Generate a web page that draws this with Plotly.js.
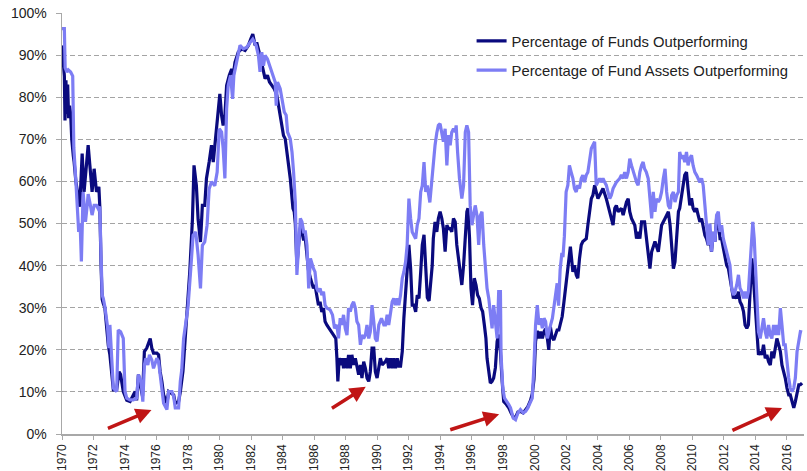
<!DOCTYPE html>
<html>
<head>
<meta charset="utf-8">
<script src="https://cdn.plot.ly/plotly-3.0.1.min.js"></script>
<style>html,body{margin:0;padding:0;background:#fff;}#chart{width:807px;height:471px;}</style>
</head>
<body>
<div id="chart"></div>
<script>
// Percentage of Funds Outperforming (decimal year, %)
var fundsYear = [1970.00,1970.08,1970.15,1970.19,1970.25,1970.30,1970.36,1970.42,1970.48,1970.55,1970.62,1970.72,1970.77,1970.88,1970.98,1971.13,1971.28,1971.40,1971.55,1971.66,1971.77,1971.91,1972.04,1972.19,1972.34,1972.40,1972.48,1972.55,1972.62,1972.72,1972.94,1973.04,1973.26,1973.47,1973.62,1973.72,1973.89,1974.11,1974.32,1974.53,1974.64,1974.74,1974.85,1974.96,1975.11,1975.23,1975.38,1975.60,1975.70,1975.81,1976.02,1976.13,1976.23,1976.34,1976.45,1976.66,1976.77,1977.09,1977.19,1977.40,1977.51,1977.68,1977.89,1978.00,1978.11,1978.28,1978.38,1978.53,1978.64,1978.79,1978.91,1979.06,1979.17,1979.34,1979.49,1979.60,1979.77,1979.91,1980.02,1980.13,1980.23,1980.34,1980.45,1980.62,1980.77,1980.87,1980.98,1981.19,1981.40,1981.62,1981.83,1981.98,1982.11,1982.26,1982.36,1982.57,1982.74,1982.89,1983.04,1983.17,1983.32,1983.47,1983.64,1983.85,1984.06,1984.17,1984.32,1984.49,1984.66,1984.74,1984.81,1984.91,1985.02,1985.13,1985.23,1985.34,1985.43,1985.55,1985.64,1985.77,1985.85,1985.96,1986.06,1986.17,1986.28,1986.38,1986.49,1986.60,1986.70,1986.81,1987.02,1987.23,1987.38,1987.45,1987.51,1987.60,1987.72,1987.81,1987.87,1987.98,1988.09,1988.19,1988.30,1988.40,1988.51,1988.62,1988.72,1988.83,1988.94,1989.04,1989.15,1989.26,1989.36,1989.47,1989.57,1989.68,1989.79,1989.89,1990.00,1990.11,1990.21,1990.32,1990.53,1990.64,1990.74,1990.85,1990.96,1991.06,1991.17,1991.28,1991.38,1991.49,1991.60,1991.70,1991.81,1991.91,1992.02,1992.13,1992.23,1992.34,1992.45,1992.55,1992.66,1992.77,1992.87,1992.98,1993.09,1993.19,1993.30,1993.40,1993.50,1993.57,1993.68,1993.79,1993.89,1994.00,1994.11,1994.21,1994.32,1994.43,1994.53,1994.64,1994.74,1994.85,1994.96,1995.06,1995.23,1995.38,1995.49,1995.60,1995.70,1995.77,1995.87,1995.96,1996.06,1996.17,1996.28,1996.38,1996.49,1996.60,1996.70,1996.81,1996.91,1996.98,1997.09,1997.19,1997.30,1997.40,1997.51,1997.62,1997.72,1997.83,1997.94,1998.04,1998.21,1998.36,1998.51,1998.68,1998.79,1998.94,1999.10,1999.28,1999.43,1999.57,1999.74,1999.85,1999.96,2000.06,2000.17,2000.28,2000.38,2000.49,2000.60,2000.70,2000.81,2000.90,2001.00,2001.10,2001.22,2001.33,2001.43,2001.54,2001.64,2001.75,2001.85,2001.96,2002.06,2002.17,2002.27,2002.43,2002.53,2002.64,2002.74,2002.85,2002.96,2003.06,2003.28,2003.38,2003.49,2003.60,2003.70,2003.81,2003.91,2004.02,2004.23,2004.34,2004.55,2004.77,2004.87,2004.98,2005.09,2005.19,2005.30,2005.51,2005.62,2005.83,2005.94,2006.04,2006.15,2006.36,2006.47,2006.57,2006.68,2006.79,2006.98,2007.09,2007.21,2007.32,2007.43,2007.64,2007.85,2007.96,2008.06,2008.28,2008.49,2008.60,2008.70,2008.81,2008.91,2009.02,2009.13,2009.21,2009.32,2009.43,2009.53,2009.64,2009.74,2009.85,2009.96,2010.06,2010.17,2010.28,2010.38,2010.49,2010.60,2010.70,2010.81,2010.91,2011.02,2011.13,2011.23,2011.34,2011.45,2011.55,2011.66,2011.77,2011.87,2011.98,2012.09,2012.19,2012.30,2012.40,2012.51,2012.62,2012.72,2012.83,2012.94,2013.04,2013.15,2013.26,2013.36,2013.47,2013.57,2013.68,2013.79,2013.89,2014.00,2014.11,2014.21,2014.32,2014.43,2014.53,2014.64,2014.74,2014.85,2014.96,2015.06,2015.17,2015.28,2015.38,2015.49,2015.60,2015.70,2015.81,2015.91,2016.02,2016.13,2016.23,2016.34,2016.45,2016.55,2016.66,2016.77,2016.87,2016.98];
var fundsPct = [92.3,88,85,74.5,84,76,83,75,78,76,70,66,64.6,60,57.5,54,66.6,57.5,63.8,68.6,63.8,57.5,63,57.5,58.7,54,40,32,31,30,21,18.8,10.5,10.5,14.8,14.1,10.1,8,7.7,9.3,10.1,8,14.1,11.7,9,19.6,20.4,22.7,20.4,19.2,19.2,18.8,14.8,12.5,9.3,7.3,10.1,9.3,7.3,7.7,10,15,25.9,30.6,38.5,51,63.8,59,51,45.6,54.3,54.3,60.7,64.6,68.6,64.6,71.7,75.7,80.8,75.7,73.3,75.7,82.8,85.2,86.7,85.2,88.3,90.7,91.5,91.1,92.3,93.8,95,92.3,93,89.9,86.7,84.4,85.2,83.6,82.8,82,80.4,75.7,70.9,70.1,65.4,60.7,53.6,52.8,50,40,45,49,48,46,47,42,39,37,36,34.6,35.4,33,30.6,31.4,29,29.9,26.7,25.9,24.7,23.5,22.7,18,12.5,18,16.4,18,15.6,18,15.6,18.8,15.6,18.8,16.4,18,15.6,14.1,16.4,13.3,17.2,15.6,13.3,12.5,14.8,20.4,20.4,14.8,13.3,16.4,18,16.4,17.2,18,15.6,18,15.6,18,15.6,18,16.1,16.1,19.6,27.5,34.6,39.3,44.9,39.3,30.6,30.6,29,33,32.2,38.5,44.9,47.3,38.5,32.4,31.6,35,40,46.4,50.4,48,51.2,52.8,51.2,48.8,43.3,49.6,48.8,48.8,48,51.2,50.4,44.9,40,35.4,40,46.4,52.8,53.6,46.4,34.6,30.6,37,35.4,33,32.2,29.9,29.1,25.9,22.7,18,14.1,12.1,12.5,13.3,15.7,22,23.6,19.6,12.5,7.7,7,6.2,5,3.8,4,5.2,5.4,5,5.8,6.5,8,9.5,13,22,24.5,22.7,24.3,22.7,24.3,25,22.7,20,25.5,23.1,22.3,23.9,24.7,24.7,26.3,27.9,31,35,38.2,42,44.5,38.5,40.1,37.8,37,41.7,44.9,45.7,46.4,49.6,52.8,55.9,56.7,59.1,57.5,55.9,57.5,58.3,55.9,52.8,51.2,49.6,53.6,54.3,52.8,53.6,52,55.1,55.9,52.8,51.2,49.6,46.4,48,46.4,50.4,50.4,46.4,41.7,39.3,43.3,45.7,43.3,46.4,49.6,51.2,52.8,49.6,44.9,39.3,40.9,46.4,52.8,53.6,55.9,59.1,61.5,62.2,58.3,54.3,56,53.6,52.8,53.6,52,50.4,51.2,48.8,47.2,46.4,44.9,46.4,43.3,48,45.7,51.2,50.4,46.4,46.4,44.1,41.7,40.1,39.3,37,33.8,32.2,33,32.2,33.8,31.4,30.6,29.1,25.9,25.1,25.9,33.8,41.7,37,30.6,25.1,18.8,19.6,18.8,21.2,18,18.8,17.2,16.4,19.6,18,20.4,22.7,21.2,19.6,16.4,14.8,13.3,10.9,9.3,9.3,7.7,6.2,7.7,10.1,11.7,11.7,12.1];

// Percentage of Fund Assets Outperforming (decimal year, %)
var assetsYear = [1970.00,1970.15,1970.20,1970.30,1970.40,1970.55,1970.68,1970.75,1970.85,1970.91,1971.06,1971.15,1971.23,1971.34,1971.49,1971.60,1971.66,1971.77,1971.91,1972.04,1972.19,1972.30,1972.40,1972.48,1972.55,1972.62,1972.72,1972.89,1972.98,1973.04,1973.15,1973.26,1973.36,1973.47,1973.57,1973.72,1973.89,1974.00,1974.11,1974.32,1974.53,1974.74,1974.85,1975.02,1975.13,1975.23,1975.32,1975.45,1975.55,1975.70,1975.81,1976.02,1976.13,1976.23,1976.34,1976.45,1976.66,1976.77,1976.98,1977.09,1977.19,1977.40,1977.51,1977.60,1977.72,1977.85,1978.00,1978.20,1978.32,1978.49,1978.64,1978.79,1978.91,1979.06,1979.21,1979.34,1979.49,1979.70,1979.85,1979.98,1980.13,1980.23,1980.34,1980.45,1980.55,1980.70,1980.83,1980.91,1981.09,1981.30,1981.51,1981.72,1981.94,1982.11,1982.32,1982.47,1982.57,1982.68,1982.79,1982.89,1983.04,1983.17,1983.32,1983.53,1983.60,1983.68,1983.85,1983.96,1984.11,1984.23,1984.32,1984.49,1984.60,1984.70,1984.81,1984.91,1985.02,1985.13,1985.23,1985.34,1985.45,1985.55,1985.66,1985.77,1985.96,1986.06,1986.17,1986.28,1986.38,1986.49,1986.60,1986.70,1986.81,1987.02,1987.17,1987.30,1987.45,1987.55,1987.66,1987.77,1987.87,1987.98,1988.09,1988.19,1988.30,1988.40,1988.51,1988.62,1988.72,1988.83,1988.94,1989.04,1989.15,1989.26,1989.36,1989.47,1989.57,1989.68,1989.79,1989.89,1990.00,1990.11,1990.28,1990.43,1990.53,1990.64,1990.74,1990.85,1990.96,1991.06,1991.17,1991.28,1991.38,1991.49,1991.60,1991.70,1991.81,1991.91,1992.02,1992.13,1992.23,1992.45,1992.55,1992.66,1992.77,1992.87,1992.98,1993.09,1993.19,1993.35,1993.47,1993.57,1993.68,1993.79,1993.89,1994.00,1994.11,1994.21,1994.32,1994.43,1994.53,1994.64,1994.74,1994.85,1994.96,1995.02,1995.11,1995.23,1995.38,1995.49,1995.60,1995.70,1995.81,1995.91,1996.02,1996.13,1996.23,1996.34,1996.45,1996.55,1996.66,1996.77,1996.87,1996.98,1997.09,1997.19,1997.30,1997.40,1997.51,1997.62,1997.72,1997.83,1997.87,1997.98,1998.09,1998.26,1998.36,1998.47,1998.64,1998.79,1998.94,1999.10,1999.28,1999.43,1999.57,1999.70,1999.85,1999.96,2000.06,2000.17,2000.28,2000.38,2000.49,2000.60,2000.70,2000.81,2000.90,2001.02,2001.13,2001.23,2001.34,2001.43,2001.52,2001.62,2001.73,2001.80,2001.89,2002.00,2002.11,2002.21,2002.32,2002.43,2002.53,2002.64,2002.74,2002.85,2002.96,2003.06,2003.17,2003.28,2003.38,2003.49,2003.60,2003.70,2003.81,2003.91,2004.02,2004.13,2004.23,2004.34,2004.45,2004.55,2004.66,2004.77,2004.87,2004.98,2005.19,2005.40,2005.51,2005.62,2005.72,2005.83,2005.94,2006.04,2006.15,2006.26,2006.36,2006.47,2006.57,2006.68,2006.79,2006.89,2006.98,2007.09,2007.21,2007.32,2007.43,2007.53,2007.64,2007.74,2007.85,2007.96,2008.06,2008.17,2008.28,2008.38,2008.49,2008.60,2008.70,2008.81,2008.91,2009.02,2009.13,2009.21,2009.32,2009.43,2009.53,2009.64,2009.74,2009.85,2009.96,2010.06,2010.17,2010.28,2010.38,2010.49,2010.60,2010.70,2010.81,2010.91,2011.02,2011.13,2011.23,2011.34,2011.45,2011.55,2011.66,2011.77,2011.87,2011.98,2012.09,2012.19,2012.30,2012.40,2012.51,2012.62,2012.72,2012.83,2012.94,2013.04,2013.15,2013.26,2013.36,2013.47,2013.57,2013.68,2013.79,2013.85,2013.94,2014.02,2014.11,2014.21,2014.32,2014.43,2014.53,2014.64,2014.74,2014.85,2014.96,2015.06,2015.17,2015.28,2015.38,2015.49,2015.60,2015.70,2015.81,2015.91,2016.02,2016.13,2016.23,2016.34,2016.45,2016.55,2016.66,2016.77,2016.87,2016.98];
var assetsPct = [96.3,96.3,87,86,86.5,86,85,68,62,57.5,48,50,41,57.5,50.4,54.3,57,55,52,54.3,54.3,53.5,54,42,33,32.2,30.3,25.5,20.4,25.9,18,10.9,10.5,10.1,24.7,24.3,22.7,10.1,8.5,8.1,8.1,8.5,14.1,12.5,7.7,16.4,18,16.4,18.8,17.6,15.6,18,17.2,14.1,11.7,7.3,5.8,10.1,10.1,8.9,6.2,6.2,12.5,15.2,22.7,26,30.2,40.6,47.2,48,42.5,34.6,44.8,45.6,49.6,58.2,59.9,59,62.2,72.5,71.7,67.8,60.7,77.3,82.8,85.2,79.6,85.2,88.3,92.3,91.5,91.8,93,93.8,92.3,89.9,86,90.7,87.5,89.9,89.1,87.5,86,83.6,78,83.6,82,79.6,76.5,75.7,71.7,70.1,67,62.2,55.1,37.8,46.4,51.2,50.4,48,48,44.8,34.6,41.7,39.3,38.5,34.6,33.8,34.6,33,33.8,30.6,29.9,29.5,28.3,25.1,25.9,22.7,27.5,25.9,28.3,25.1,23.5,29.9,29.1,30.6,31.4,29.9,26.7,25.9,21.2,23.5,22.7,23.5,25.9,22.7,24.3,30.6,26.7,22.7,22,25.9,27.5,25.9,25.9,28.3,25.9,29.1,31.4,32.2,30.6,32.2,30.6,33,37,38.5,40.9,44.9,55.9,51.2,48,46.4,49.6,51.2,57.5,59,64.6,57.5,59,55,60,66,68.6,71.5,73.3,73.7,71.7,69.4,72.5,63.8,71,68.6,71.7,72.5,71.7,73.3,67,60.7,55.9,59,71.7,73.3,71.7,54.3,49.6,52.8,54.3,52,44.9,51.8,52.8,44.9,39.3,34.6,32.2,29,25.1,30.6,26.7,22.7,33.8,33.8,18.8,10.9,8.5,7.7,7,6.2,3.8,3.4,5,5.8,5,5.4,6.2,7.3,8.5,16.4,25.9,30.6,25.9,27.5,25.1,27.5,26.7,22.7,24.5,26,27.5,30.2,33.4,35.8,30.5,39,43,42,47,57.5,59.1,63.8,62.2,60.7,58.3,57.5,59.1,58.3,60.7,61.5,59.8,61.5,62.2,65.4,67.8,68.6,69.4,59.1,59.8,60.7,59.8,60.7,59.8,59.1,57.5,55.9,56.7,58.3,59.8,60.7,61.5,60.7,62.2,60.7,62.2,65.4,63.8,62.2,60.7,59.8,59.1,62.2,63.8,64.6,63,62.2,60.7,55.9,51.2,57.5,52.8,55.9,55.1,55.9,57.5,60.7,63,57.5,54.3,53.5,56.7,57.5,55.1,56.7,57.5,67,65.4,66.2,64.6,67,63.8,65.4,66.2,63.8,62.2,61.5,60.7,59.8,60.7,59.1,54.3,50.4,44.9,50,43.3,48,45.7,52,52.8,48,49.6,46.4,44.9,43.3,41.7,40.1,34.6,33,33.8,35.4,37.8,34.6,33.8,32.2,33.8,32.2,33.8,41.7,48,50.4,46.4,40.1,30.6,24.3,22.7,25.9,27.5,24.3,22.7,25.9,23.5,22.7,25.9,23.5,25.9,23.5,29.9,25.9,21.2,21.2,16.4,13.3,10.9,10.1,10.9,13.3,19.6,22.7,24.3,24.2];

var seriesNames = ['Percentage of Funds Outperforming', 'Percentage of Fund Assets Outperforming'];
var yearTicks = [];
for (var yv = 1970; yv <= 2016; yv += 2) yearTicks.push(yv);
var pctTicks = [0,10,20,30,40,50,60,70,80,90,100];

// red arrows: [tailYear, tailPct, headYear, headPct]
var arrowSpots = [
  [1972.82, 1.2, 1975.68, 5.7],
  [1987.04, 5.9, 1989.28, 11.2],
  [1994.55, 0.9, 1997.75, 4.7],
  [2012.46, 0.7, 2015.71, 6.2]
];

var traces = [
  {x: fundsYear, y: fundsPct, name: seriesNames[0], type: 'scatter', mode: 'lines',
   line: {color: '#0a0a7e', width: 3.2}, legendgroup: 'a'},
  {x: assetsYear, y: assetsPct, name: seriesNames[1], type: 'scatter', mode: 'lines',
   line: {color: '#7d7df4', width: 3.2}, legendgroup: 'b'}
];

var annotations = arrowSpots.map(function (a) {
  return {x: a[2], y: a[3], ax: a[0], ay: a[1], xref: 'x', yref: 'y', axref: 'x', ayref: 'y',
    text: '', showarrow: true, arrowhead: 2, arrowsize: 0.9, arrowwidth: 3.5, arrowcolor: '#c01515'};
});

var layout = {
  width: 807, height: 471,
  margin: {l: 62, r: 3, t: 13, b: 37, pad: 0},
  paper_bgcolor: '#ffffff', plot_bgcolor: '#ffffff',
  font: {family: 'Liberation Sans, Arial, sans-serif', color: '#222222'},
  showlegend: true,
  legend: {x: 0.552, y: 0.972, xanchor: 'left', yanchor: 'top', bgcolor: 'rgba(0,0,0,0)',
    font: {size: 14.8, color: '#222222'}, traceorder: 'grouped', tracegroupgap: 7},
  xaxis: {range: [1970, 2017.1], tickmode: 'array', tickvals: yearTicks,
    ticktext: yearTicks.map(String), tickangle: -90, ticks: 'outside', ticklen: 4,
    tickcolor: '#a8a8a8', showline: true, linecolor: '#a8a8a8', linewidth: 1.5,
    showgrid: false, zeroline: false,
    tickfont: {family: 'Liberation Sans, Arial', size: 12, color: '#222222'}},
  yaxis: {range: [0, 100], tickmode: 'array', tickvals: pctTicks,
    ticktext: pctTicks.map(function (v) { return v + '%'; }), ticks: 'outside', ticklen: 5,
    tickcolor: '#a8a8a8', showline: true, linecolor: '#a8a8a8', linewidth: 1.5,
    showgrid: true, gridcolor: '#a4a4a4', gridwidth: 1, griddash: '5px,3px',
    zeroline: false, ticklabelstandoff: 6,
    tickfont: {size: 14, color: '#222222'}},
  annotations: annotations
};

Plotly.newPlot('chart', traces, layout, {displayModeBar: false, staticPlot: true});
</script>
</body>
</html>
